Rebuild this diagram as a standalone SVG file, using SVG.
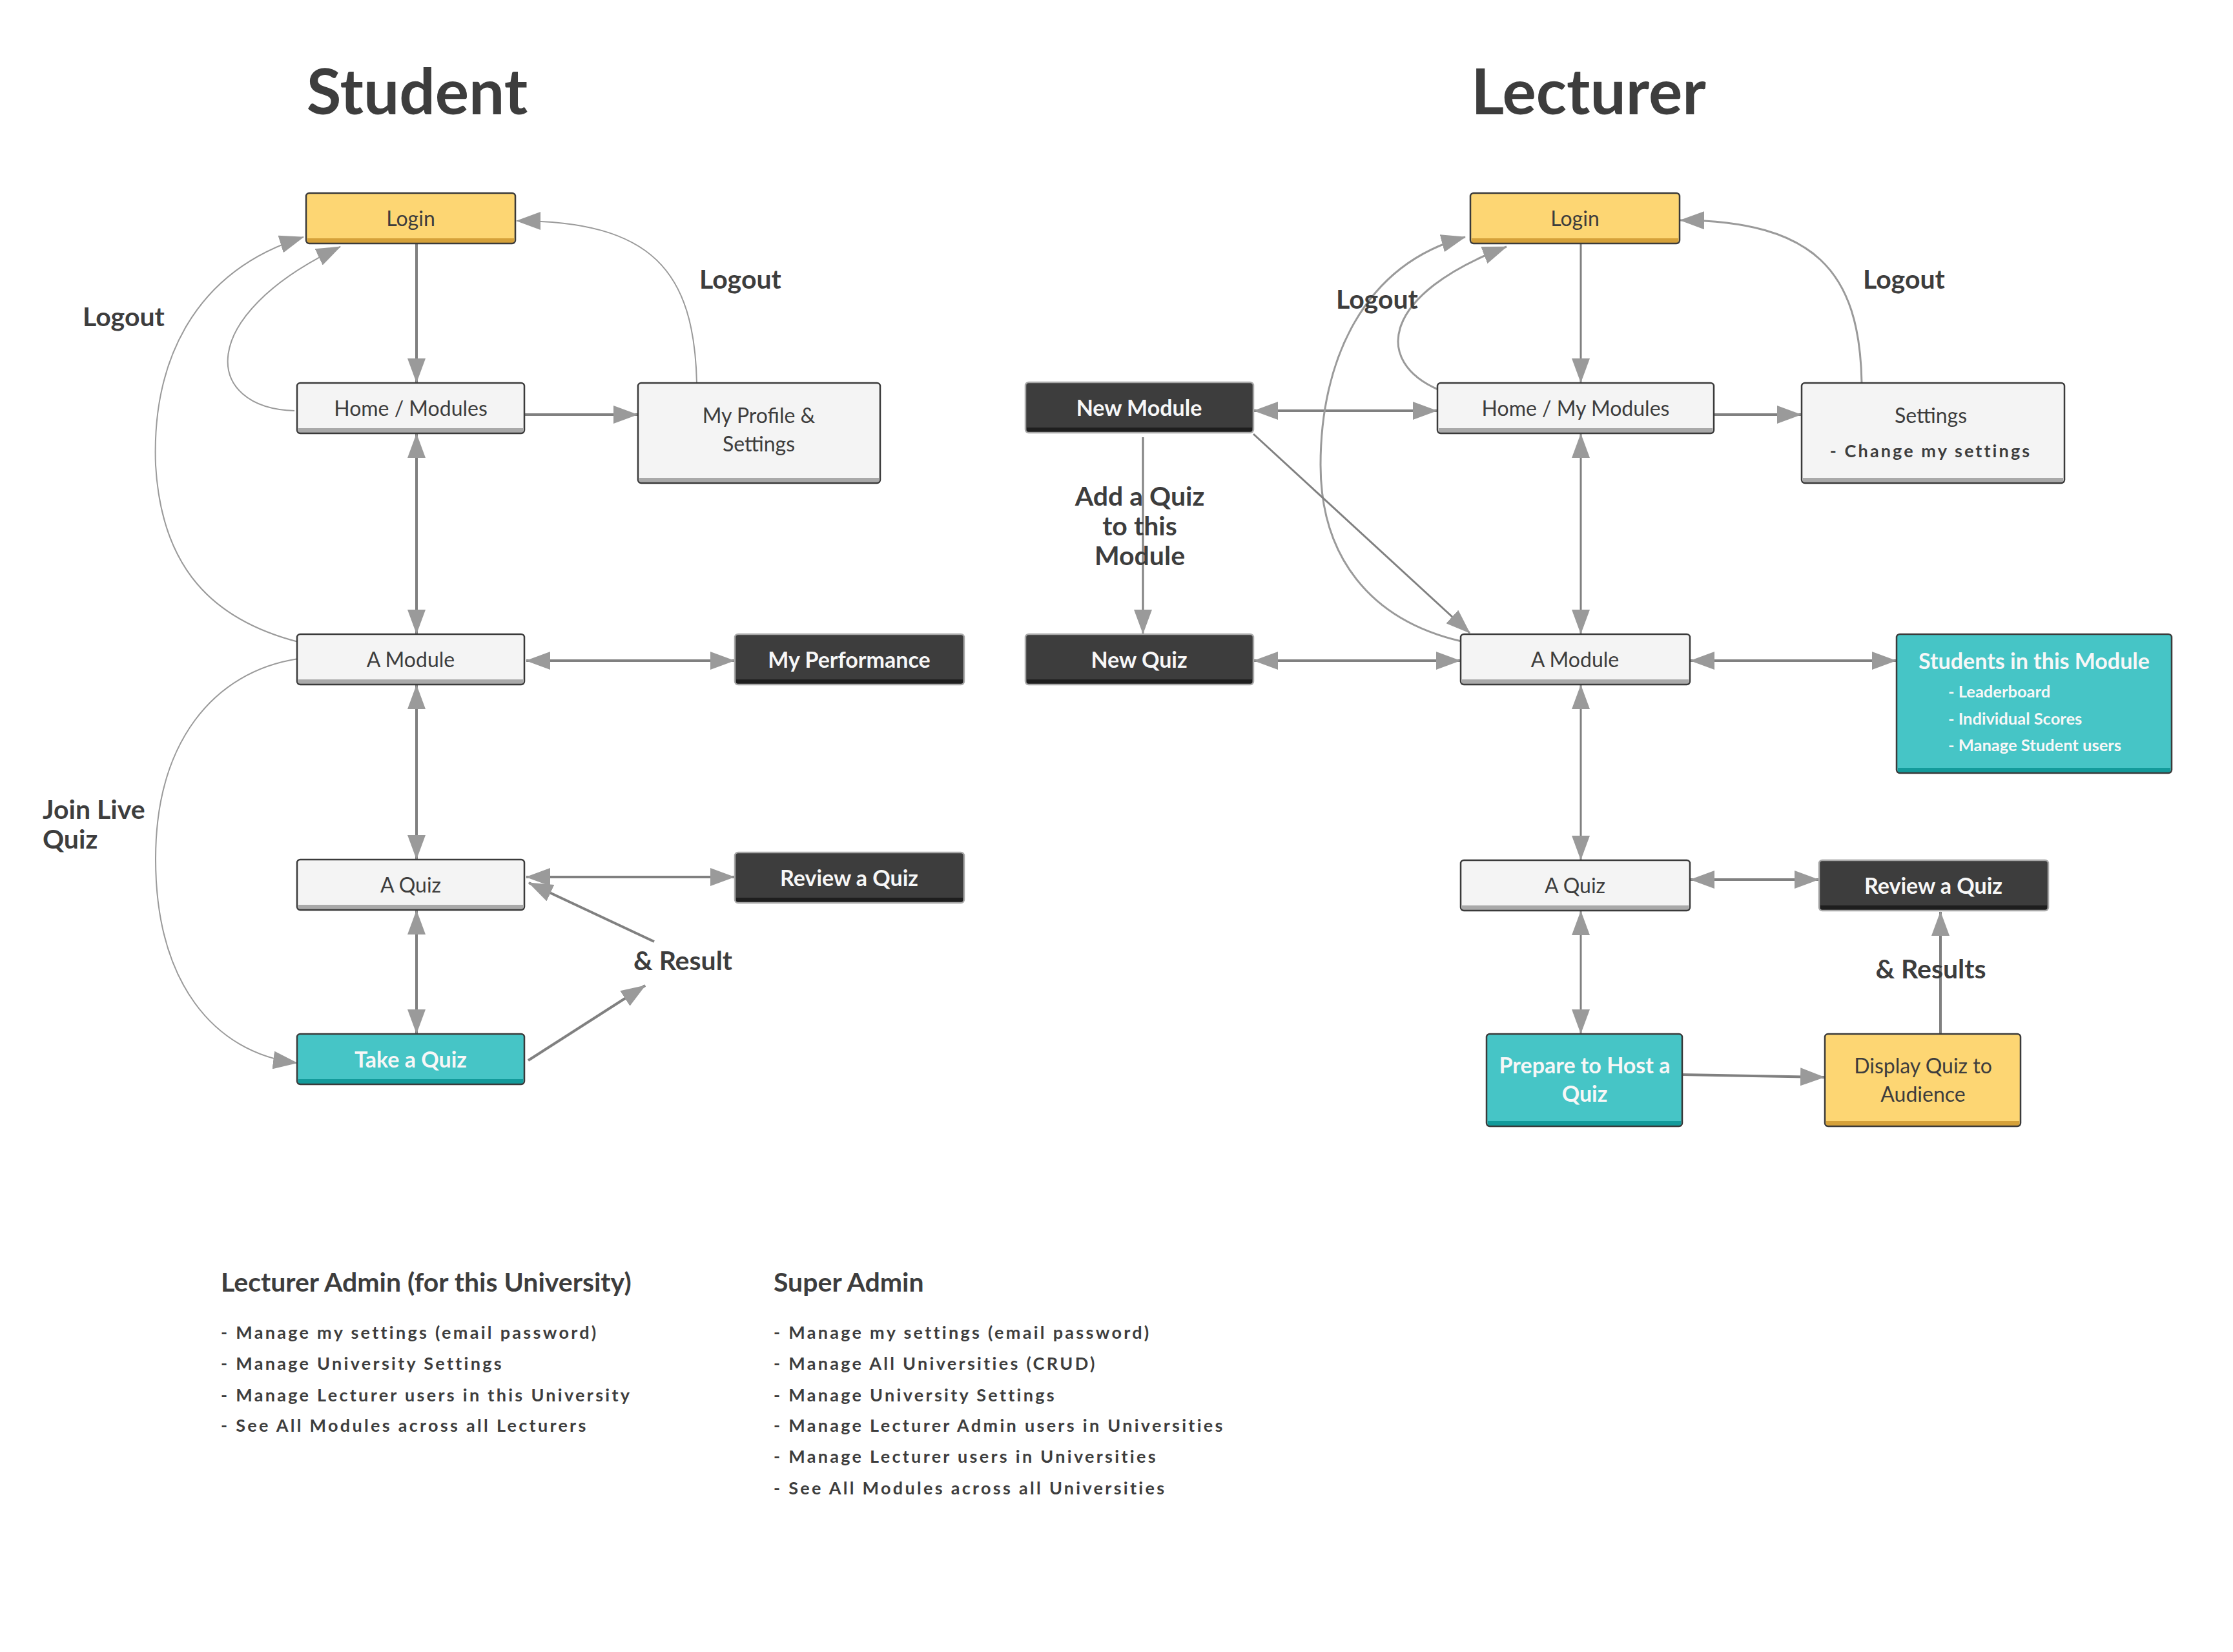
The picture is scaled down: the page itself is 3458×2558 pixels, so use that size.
<svg xmlns="http://www.w3.org/2000/svg" width="3458" height="2558" viewBox="0 0 3458 2558">
<defs>
<style>
.t{font-family:Lato,"Open Sans","Liberation Sans",sans-serif;fill:#3d3d3d}
.nt{font-size:32px;text-anchor:middle}
.w{fill:#f7f7f7;font-weight:700;font-size:34px}
.b{font-weight:700}
.lbl{font-size:41px;font-weight:700}
.ttl{font-size:98px;font-weight:700;text-anchor:middle}
.h2{font-size:41px;font-weight:700}
.li{font-size:27px;font-weight:700;letter-spacing:3.3px}
.sm{fill:#f7f7f7;font-weight:700;font-size:25.5px}
.bdr{fill:none;stroke:#3a3a3a;stroke-width:2.5}
.bdrd{fill:none;stroke:#a9a9a9;stroke-width:2.5}
.light{fill:#f4f4f4}.lights{fill:#a9a9a9}
.yel{fill:#fdd673}.yels{fill:#d5a13a}
.teal{fill:#46c5c6}.teals{fill:#139b9b}
.dark{fill:#3d3d3d}.darks{fill:#1e1e1e}
.e{fill:none;stroke:#808080;stroke-width:4}
.e3{fill:none;stroke:#808080;stroke-width:3}
.c{fill:none;stroke:#9a9a9a;stroke-width:2}
.c3{fill:none;stroke:#9a9a9a;stroke-width:3}
</style>
<marker id="ah" markerWidth="38" markerHeight="28" refX="37" refY="14" orient="auto-start-reverse" markerUnits="userSpaceOnUse" viewBox="0 0 38 28">
<path d="M0,0 L38,14 L0,28 z" fill="#9a9a9a"/>
</marker>
</defs>
<rect width="3458" height="2558" fill="#ffffff"/>

<text class="t ttl" x="646" y="177">Student</text>
<text class="t ttl" x="2460" y="177">Lecturer</text>

<g id="connectors">
<!-- Student -->
<path class="e" d="M645,378 V592" marker-end="url(#ah)"/>
<path class="e" d="M813,642 H987" marker-end="url(#ah)"/>
<path class="e" d="M645,672 V981" marker-start="url(#ah)" marker-end="url(#ah)"/>
<path class="e" d="M815,1023 H1137" marker-start="url(#ah)" marker-end="url(#ah)"/>
<path class="e" d="M645,1061 V1330" marker-start="url(#ah)" marker-end="url(#ah)"/>
<path class="e" d="M815,1358 H1137" marker-start="url(#ah)" marker-end="url(#ah)"/>
<path class="e" d="M645,1410 V1600" marker-start="url(#ah)" marker-end="url(#ah)"/>
<path class="e" d="M818,1642 L999,1526" marker-end="url(#ah)"/>
<path class="e" d="M1013,1458 L819,1367" marker-end="url(#ah)"/>
<path class="c" d="M1079,593 C1075,420 1010,342 800,342" marker-end="url(#ah)"/>
<path class="c" d="M456,636 C315,632 300,490 527,382" marker-end="url(#ah)"/>
<path class="c" d="M462,994 C330,960 250,880 241,720 C235,560 300,420 470,367" marker-end="url(#ah)"/>
<path class="c" d="M462,1020 C330,1040 241,1150 241,1330 C241,1520 330,1630 460,1646" marker-end="url(#ah)"/>
<!-- Lecturer -->
<path class="e3" d="M2448,378 V592" marker-end="url(#ah)"/>
<path class="e" d="M2655,642 H2789" marker-end="url(#ah)"/>
<path class="e" d="M1942,636 H2225" marker-start="url(#ah)" marker-end="url(#ah)"/>
<path class="c3" d="M2883,593 C2880,420 2810,342 2602,341" marker-end="url(#ah)"/>
<path class="c3" d="M2229,604 C2125,560 2140,455 2333,382" marker-end="url(#ah)"/>
<path class="c3" d="M2263,993 C2120,960 2045,860 2045,720 C2045,560 2110,410 2269,367" marker-end="url(#ah)"/>
<path class="e3" d="M1941,672 L2276,980" marker-end="url(#ah)"/>
<path class="e3" d="M1770,677 V981" marker-end="url(#ah)"/>
<path class="e" d="M1942,1023 H2261" marker-start="url(#ah)" marker-end="url(#ah)"/>
<path class="e3" d="M2448,672 V981" marker-start="url(#ah)" marker-end="url(#ah)"/>
<path class="e" d="M2618,1023 H2936" marker-start="url(#ah)" marker-end="url(#ah)"/>
<path class="e3" d="M2448,1061 V1331" marker-start="url(#ah)" marker-end="url(#ah)"/>
<path class="e" d="M2618,1362 H2816" marker-start="url(#ah)" marker-end="url(#ah)"/>
<path class="e3" d="M2448,1411 V1600" marker-start="url(#ah)" marker-end="url(#ah)"/>
<path class="e" d="M2606,1664 L2825,1668" marker-end="url(#ah)"/>
<path class="e" d="M3005,1601 V1412" marker-end="url(#ah)"/>
</g>

<g id="edge-labels">
<text class="t lbl" x="128" y="505">Logout</text>
<text class="t lbl" x="1083" y="447">Logout</text>
<text class="t lbl" x="66" y="1268">Join Live</text>
<text class="t lbl" x="66" y="1314">Quiz</text>
<text class="t lbl" x="981" y="1502">&amp; Result</text>
<text class="t lbl" x="2069" y="478">Logout</text>
<text class="t lbl" x="2885" y="447">Logout</text>
<text class="t lbl" text-anchor="middle" x="1765" y="783">Add a Quiz</text>
<text class="t lbl" text-anchor="middle" x="1765" y="829">to this</text>
<text class="t lbl" text-anchor="middle" x="1765" y="875">Module</text>
<text class="t lbl" text-anchor="middle" x="2990" y="1515">&amp; Results</text>
</g>

<!-- Student nodes -->
<g id="s-login">
<rect class="yel" x="474" y="299" width="324" height="78" rx="5"/>
<rect class="yels" x="476" y="369" width="320" height="7"/>
<rect class="bdr" x="474" y="299" width="324" height="78" rx="5"/>
<text class="t nt" x="636" y="350">Login</text>
</g>
<g id="s-home">
<rect class="light" x="460" y="593" width="352" height="78" rx="5"/>
<rect class="lights" x="462" y="663" width="348" height="7"/>
<rect class="bdr" x="460" y="593" width="352" height="78" rx="5"/>
<text class="t nt" x="636" y="644">Home / Modules</text>
</g>
<g id="s-profile">
<rect class="light" x="988" y="593" width="375" height="155" rx="5"/>
<rect class="lights" x="990" y="740" width="371" height="7"/>
<rect class="bdr" x="988" y="593" width="375" height="155" rx="5"/>
<text class="t nt" x="1175" y="655">My Profile &amp;</text>
<text class="t nt" x="1175" y="699">Settings</text>
</g>
<g id="s-module">
<rect class="light" x="460" y="982" width="352" height="78" rx="5"/>
<rect class="lights" x="462" y="1052" width="348" height="7"/>
<rect class="bdr" x="460" y="982" width="352" height="78" rx="5"/>
<text class="t nt" x="636" y="1033">A Module</text>
</g>
<g id="s-perf">
<rect class="dark" x="1138" y="982" width="355" height="78" rx="5"/>
<rect class="darks" x="1140" y="1052" width="351" height="7"/>
<rect class="bdrd" x="1138" y="982" width="355" height="78" rx="5"/>
<text class="t nt w" x="1315" y="1034">My Performance</text>
</g>
<g id="s-quiz">
<rect class="light" x="460" y="1331" width="352" height="78" rx="5"/>
<rect class="lights" x="462" y="1401" width="348" height="7"/>
<rect class="bdr" x="460" y="1331" width="352" height="78" rx="5"/>
<text class="t nt" x="636" y="1382">A Quiz</text>
</g>
<g id="s-review">
<rect class="dark" x="1138" y="1320" width="355" height="78" rx="5"/>
<rect class="darks" x="1140" y="1390" width="351" height="7"/>
<rect class="bdrd" x="1138" y="1320" width="355" height="78" rx="5"/>
<text class="t nt w" x="1315" y="1372">Review a Quiz</text>
</g>
<g id="s-take">
<rect class="teal" x="460" y="1601" width="352" height="78" rx="5"/>
<rect class="teals" x="462" y="1671" width="348" height="7"/>
<rect class="bdr" x="460" y="1601" width="352" height="78" rx="5"/>
<text class="t nt w" x="636" y="1653">Take a Quiz</text>
</g>

<!-- Lecturer nodes -->
<g id="l-login">
<rect class="yel" x="2277" y="299" width="324" height="78" rx="5"/>
<rect class="yels" x="2279" y="369" width="320" height="7"/>
<rect class="bdr" x="2277" y="299" width="324" height="78" rx="5"/>
<text class="t nt" x="2439" y="350">Login</text>
</g>
<g id="l-home">
<rect class="light" x="2226" y="593" width="428" height="78" rx="5"/>
<rect class="lights" x="2228" y="663" width="424" height="7"/>
<rect class="bdr" x="2226" y="593" width="428" height="78" rx="5"/>
<text class="t nt" x="2440" y="644">Home / My Modules</text>
</g>
<g id="l-settings">
<rect class="light" x="2790" y="593" width="407" height="155" rx="5"/>
<rect class="lights" x="2792" y="740" width="403" height="7"/>
<rect class="bdr" x="2790" y="593" width="407" height="155" rx="5"/>
<text class="t nt" x="2990" y="655">Settings</text>
<text class="t b" text-anchor="middle" font-size="27" letter-spacing="3.1" x="2990" y="708">- Change my settings</text>
</g>
<g id="l-newmodule">
<rect class="dark" x="1588" y="592" width="353" height="78" rx="5"/>
<rect class="darks" x="1590" y="662" width="349" height="7"/>
<rect class="bdrd" x="1588" y="592" width="353" height="78" rx="5"/>
<text class="t nt w" x="1764" y="644">New Module</text>
</g>
<g id="l-newquiz">
<rect class="dark" x="1588" y="982" width="353" height="78" rx="5"/>
<rect class="darks" x="1590" y="1052" width="349" height="7"/>
<rect class="bdrd" x="1588" y="982" width="353" height="78" rx="5"/>
<text class="t nt w" x="1764" y="1034">New Quiz</text>
</g>
<g id="l-module">
<rect class="light" x="2262" y="982" width="355" height="78" rx="5"/>
<rect class="lights" x="2264" y="1052" width="351" height="7"/>
<rect class="bdr" x="2262" y="982" width="355" height="78" rx="5"/>
<text class="t nt" x="2439" y="1033">A Module</text>
</g>
<g id="l-students">
<rect class="teal" x="2937" y="982" width="426" height="215" rx="5"/>
<rect class="teals" x="2939" y="1189" width="422" height="7"/>
<rect class="bdr" x="2937" y="982" width="426" height="215" rx="5"/>
<text class="t nt w" x="3150" y="1036">Students in this Module</text>
<text class="t sm" x="3017" y="1080">- Leaderboard</text>
<text class="t sm" x="3017" y="1122">- Individual Scores</text>
<text class="t sm" x="3017" y="1163">- Manage Student users</text>
</g>
<g id="l-quiz">
<rect class="light" x="2262" y="1332" width="355" height="78" rx="5"/>
<rect class="lights" x="2264" y="1402" width="351" height="7"/>
<rect class="bdr" x="2262" y="1332" width="355" height="78" rx="5"/>
<text class="t nt" x="2439" y="1383">A Quiz</text>
</g>
<g id="l-review">
<rect class="dark" x="2817" y="1332" width="355" height="78" rx="5"/>
<rect class="darks" x="2819" y="1402" width="351" height="7"/>
<rect class="bdrd" x="2817" y="1332" width="355" height="78" rx="5"/>
<text class="t nt w" x="2994" y="1384">Review a Quiz</text>
</g>
<g id="l-prepare">
<rect class="teal" x="2302" y="1601" width="303" height="143" rx="5"/>
<rect class="teals" x="2304" y="1736" width="299" height="7"/>
<rect class="bdr" x="2302" y="1601" width="303" height="143" rx="5"/>
<text class="t nt w" x="2454" y="1662">Prepare to Host a</text>
<text class="t nt w" x="2454" y="1706">Quiz</text>
</g>
<g id="l-display">
<rect class="yel" x="2826" y="1601" width="303" height="143" rx="5"/>
<rect class="yels" x="2828" y="1736" width="299" height="7"/>
<rect class="bdr" x="2826" y="1601" width="303" height="143" rx="5"/>
<text class="t nt" x="2978" y="1662">Display Quiz to</text>
<text class="t nt" x="2978" y="1706">Audience</text>
</g>

<g id="lecturer-admin">
<text class="t h2" x="342" y="2000">Lecturer Admin (for this University)</text>
<text class="t li" x="342" y="2073">- Manage my settings (email password)</text>
<text class="t li" x="342" y="2121">- Manage University Settings</text>
<text class="t li" x="342" y="2170">- Manage Lecturer users in this University</text>
<text class="t li" x="342" y="2217">- See All Modules across all Lecturers</text>
</g>
<g id="super-admin">
<text class="t h2" x="1198" y="2000">Super Admin</text>
<text class="t li" x="1198" y="2073">- Manage my settings (email password)</text>
<text class="t li" x="1198" y="2121">- Manage All Universities (CRUD)</text>
<text class="t li" x="1198" y="2170">- Manage University Settings</text>
<text class="t li" x="1198" y="2217">- Manage Lecturer Admin users in Universities</text>
<text class="t li" x="1198" y="2265">- Manage Lecturer users in Universities</text>
<text class="t li" x="1198" y="2314">- See All Modules across all Universities</text>
</g>
</svg>
